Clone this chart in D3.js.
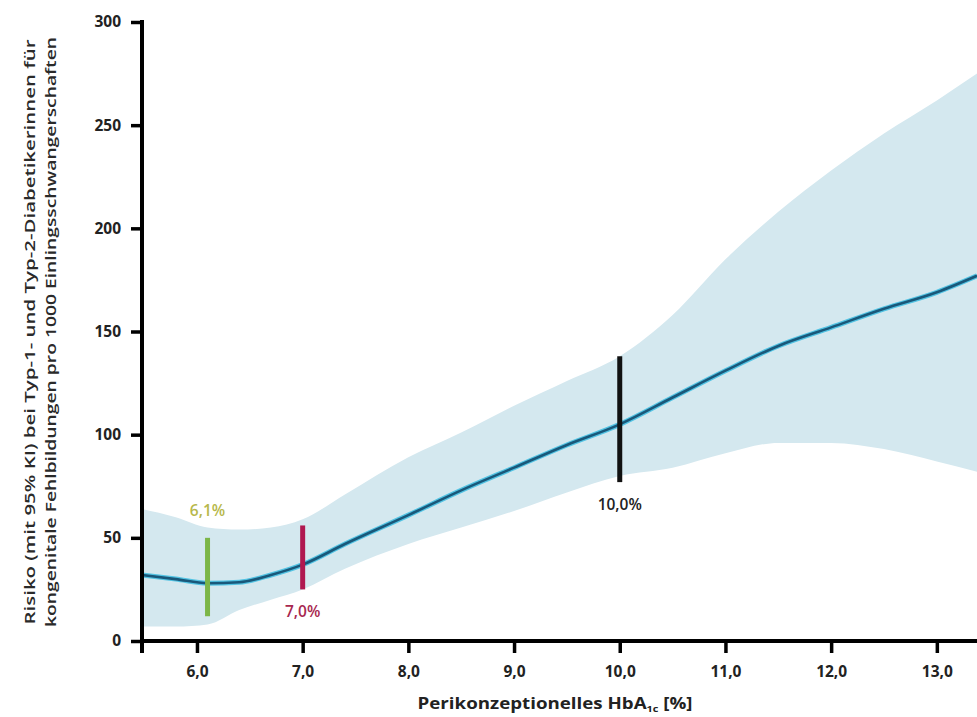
<!DOCTYPE html>
<html>
<head>
<meta charset="utf-8">
<script src="https://cdn.jsdelivr.net/npm/d3@7"></script>
<style>
  body { margin: 0; background: #fff; }
  svg { display: block; font-family: "Open Sans", "Noto Sans", sans-serif; font-weight: 700; }
</style>
</head>
<body>
<div id="chart"></div>
<script>
const hba1c = [5.48, 5.8, 6.1, 6.4, 6.7, 7.0, 7.4, 8.0, 8.5, 9.0, 9.5, 10.0, 10.5, 11.0, 11.5, 12.0, 12.5, 13.0, 13.38];
// risk per 1000 singleton pregnancies
const risk  = [32, 30, 28, 28.5, 32, 37, 47, 61, 73, 84, 95, 105, 118, 131, 143, 152, 161, 169, 177];
const upper = [64, 60, 55, 54, 55, 59, 71, 89, 101, 114, 126, 138, 158, 185, 208, 228, 246, 262, 275];
const lower = [7, 7, 8, 15, 20, 25, 35, 47, 55, 63, 72, 80, 84, 91, 96, 96, 93, 87, 82];

// highlighted HbA1c levels
const markerX     = [6.1, 7.0, 10.0];
const markerLow   = [12, 25, 77];
const markerHigh  = [50, 56, 138];
const markerLabel = ["6,1%", "7,0%", "10,0%"];
const markerColor = ["#7cb648", "#b01850", "#111111"];
const labelColor  = ["#b7b84c", "#a8284f", "#222222"];

const xTicks = [6, 7, 8, 9, 10, 11, 12, 13];
const yTicks = [0, 50, 100, 150, 200, 250, 300];

const width = 977, height = 717;
const svg = d3.select("#chart").append("svg")
    .attr("width", width)
    .attr("height", height);

// scales
const x = d3.scaleLinear().domain([5.48, 13.38]).range([142, 977]);
const y = d3.scaleLinear().domain([0, 300]).range([641, 22]);

// confidence band
const band = d3.area()
    .x((d, i) => x(hba1c[i]))
    .y0((d, i) => y(lower[i]))
    .y1((d, i) => y(upper[i]))
    .curve(d3.curveMonotoneX);

svg.append("path")
    .datum(hba1c)
    .attr("fill", "#d4e8ef")
    .attr("d", band);

// central risk line: light halo + dark core
const line = d3.line()
    .x((d, i) => x(hba1c[i]))
    .y(d => y(d))
    .curve(d3.curveMonotoneX);

svg.append("path")
    .datum(risk)
    .attr("fill", "none")
    .attr("stroke", "#52c3e3")
    .attr("stroke-width", 5)
    .attr("d", line);

svg.append("path")
    .datum(risk)
    .attr("fill", "none")
    .attr("stroke", "#19587a")
    .attr("stroke-width", 2.6)
    .attr("d", line);

// marker bars
svg.selectAll(".marker")
    .data(markerX)
    .enter().append("line")
    .attr("class", "marker")
    .attr("x1", d => x(d))
    .attr("x2", d => x(d))
    .attr("y1", (d, i) => y(markerLow[i]))
    .attr("y2", (d, i) => y(markerHigh[i]))
    .attr("stroke", (d, i) => markerColor[i])
    .attr("stroke-width", 5);

svg.selectAll(".mlabel")
    .data(markerX)
    .enter().append("text")
    .attr("class", "mlabel")
    .attr("x", d => x(d))
    .attr("y", (d, i) => i === 0 ? y(markerHigh[i]) - 22 : y(markerLow[i]) + 28)
    .attr("text-anchor", "middle")
    .attr("font-size", 15.5)
    .attr("font-weight", 600)
    .attr("fill", (d, i) => labelColor[i])
    .text((d, i) => markerLabel[i]);

// axes
const xAxis = svg.append("g")
    .attr("transform", `translate(0,${y(0)})`)
    .call(d3.axisBottom(x).tickValues(xTicks).tickSize(12).tickPadding(13)
        .tickFormat(d => d3.format(".1f")(d).replace(".", ",")));

const yAxis = svg.append("g")
    .attr("transform", `translate(${x(5.48)},0)`)
    .call(d3.axisLeft(y).tickValues(yTicks).tickSize(11).tickPadding(10));

[xAxis, yAxis].forEach(g => {
    g.select(".domain").attr("stroke", "#000").attr("stroke-width", 4);
    g.selectAll(".tick line").attr("stroke", "#000").attr("stroke-width", 3.5);
    g.selectAll(".tick text")
        .attr("fill", "#222")
        .attr("font-size", 15.5)
        .attr("font-weight", 700)
        .attr("font-family", "'Open Sans', 'Noto Sans', sans-serif");
});
xAxis.select(".domain").attr("d", `M${x(5.48) - 2},0H977`);
yAxis.select(".domain").attr("d", `M0,${y(300) - 2}V${y(0) + 12}`);

// axis titles
const xTitle = svg.append("text")
    .attr("x", 555)
    .attr("y", 709)
    .attr("text-anchor", "middle")
    .attr("font-size", 15.5)
    .attr("fill", "#222")
    .attr("textLength", 275).attr("lengthAdjust", "spacingAndGlyphs");
xTitle.append("tspan").text("Perikonzeptionelles HbA");
xTitle.append("tspan").attr("font-size", 9).attr("dy", 3).text("1c");
xTitle.append("tspan").attr("dy", -3).text(" [%]");

const yTitle = svg.append("g")
    .attr("transform", "translate(0,332) rotate(-90)");
yTitle.append("text")
    .attr("x", 0).attr("y", 35)
    .attr("text-anchor", "middle")
    .attr("font-size", 13.5)
    .attr("font-weight", 600)
    .attr("fill", "#2a2a2a")
    .attr("textLength", 585).attr("lengthAdjust", "spacingAndGlyphs")
    .text("Risiko (mit 95% KI) bei Typ-1- und Typ-2-Diabetikerinnen  für");
yTitle.append("text")
    .attr("x", 0).attr("y", 56)
    .attr("text-anchor", "middle")
    .attr("font-size", 13.5)
    .attr("font-weight", 600)
    .attr("fill", "#2a2a2a")
    .attr("textLength", 590).attr("lengthAdjust", "spacingAndGlyphs")
    .text("kongenitale Fehlbildungen pro 1000 Einlingsschwangerschaften");
</script>
</body>
</html>
